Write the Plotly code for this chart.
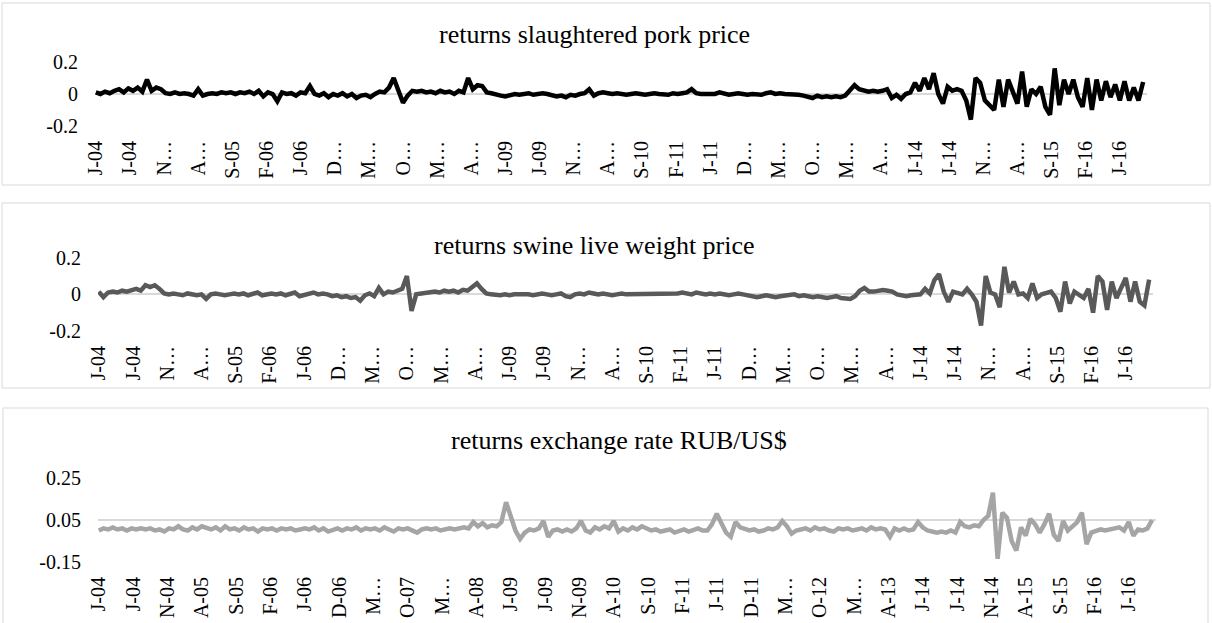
import plotly.graph_objects as go

# ---------------- data (weekly returns, sampled every 3 weeks) ----------------
week_step = 3
n_weeks = 678
label_step = 22

labels_top = ["J-04", "J-04", "N…", "A…", "S-05", "F-06", "J-06", "D…", "M…", "O…",
              "M…", "A…", "J-09", "J-09", "N…", "A…", "S-10", "F-11", "J-11", "D…",
              "M…", "O…", "M…", "A…", "J-14", "J-14", "N…", "A…", "S-15", "F-16", "J-16"]
labels_rub = ["J-04", "J-04", "N-04", "A-05", "S-05", "F-06", "J-06", "D-06", "M…", "O-07",
              "M…", "A-08", "J-09", "J-09", "N-09", "A-10", "S-10", "F-11", "J-11", "D-11",
              "M…", "O-12", "M…", "A-13", "J-14", "J-14", "N-14", "A-15", "S-15", "F-16", "J-16"]

pork = [
    0.01, 0.0, 0.015, 0.005, 0.02, 0.03, 0.01, 0.035, 0.02, 0.04,
    0.015, 0.09, 0.02, 0.04, 0.03, 0.005, 0.0, 0.01, 0.0, 0.005,
    0.0, -0.01, 0.03, -0.01, 0.0, 0.005, 0.0, 0.01, 0.005, 0.01,
    0.0, 0.01, 0.005, 0.015, 0.0, 0.02, -0.015, 0.01, 0.0, -0.045,
    0.01, 0.0, 0.005, -0.01, 0.01, 0.005, 0.05, 0.0, -0.01, 0.005,
    -0.02, 0.0, -0.01, 0.005, -0.015, 0.0, -0.025, -0.01, -0.005, -0.02,
    0.0, 0.015, 0.01, 0.04, 0.1, 0.03, -0.055, -0.01, 0.02, 0.015,
    0.02, 0.01, 0.015, 0.005, 0.02, 0.01, 0.015, 0.0, 0.02, 0.01,
    0.1, 0.03, 0.055, 0.05, 0.01, 0.005, -0.005, -0.01, -0.015, -0.005,
    0.0, -0.005, 0.0, 0.005, -0.005, 0.0, 0.005, 0.0, -0.01, -0.015,
    -0.01, -0.02, -0.005, -0.01, 0.0, 0.005, 0.03, -0.01, 0.005, 0.01,
    0.005, 0.0, 0.005, 0.0, -0.005, 0.0, 0.005, 0.0, -0.005, 0.0,
    0.005, 0.0, 0.0, -0.005, 0.005, 0.0, 0.005, 0.01, 0.03, 0.005,
    0.0, 0.0, 0.005, 0.0, 0.01, 0.0, -0.005, 0.0, 0.005, 0.0,
    -0.005, 0.0, 0.0, -0.005, 0.005, 0.01, 0.0, 0.005, 0.0, 0.0,
    -0.005, -0.005, -0.01, -0.02, -0.025, -0.01, -0.02, -0.015, -0.02, -0.015,
    -0.02, -0.01, 0.02, 0.055, 0.03, 0.02, 0.015, 0.02, 0.015, 0.02,
    0.03, -0.025, -0.005, -0.03, 0.0, 0.01, 0.07, 0.02, 0.1, 0.03,
    0.13, 0.0, -0.06, 0.045, 0.02, 0.03, 0.02, -0.04, -0.16, 0.1,
    0.07, -0.04, -0.07, -0.1, 0.09, -0.08, 0.09, 0.02, -0.06, 0.14,
    -0.08, 0.03, 0.0, 0.045, -0.08, -0.13, 0.16, -0.07, 0.09, 0.0,
    0.09, -0.02, -0.08, 0.1, -0.1, 0.09, -0.04, 0.08, -0.02, 0.06,
    -0.04, 0.08, -0.04, 0.04, -0.04, 0.075,
]

swine = [
    0.015, -0.015, 0.01, 0.015, 0.01, 0.02, 0.015, 0.02, 0.03, 0.02,
    0.05, 0.04, 0.05, 0.03, 0.005, 0.0, 0.005, 0.0, -0.005, 0.005,
    0.0, -0.005, 0.0, -0.025, 0.0, 0.005, 0.0, -0.005, 0.0, 0.005,
    0.0, 0.005, -0.005, 0.0, 0.01, -0.005, 0.0, 0.005, 0.0, 0.005,
    -0.005, 0.0, 0.01, -0.01, -0.005, 0.0, 0.01, 0.0, 0.005, 0.0,
    -0.01, -0.005, -0.015, -0.01, -0.02, -0.015, -0.035, -0.005, 0.005, -0.01,
    0.035, 0.0, 0.015, 0.01, 0.02, 0.03, 0.1, -0.09, 0.0, 0.005,
    0.005, 0.01, 0.015, 0.01, 0.02, 0.015, 0.02, 0.01, 0.025, 0.02,
    0.04, 0.06, 0.03, 0.005, 0.0, -0.005, -0.005, 0.0, -0.005, 0.0,
    0.0, 0.005, 0.0, -0.005, 0.0, 0.005, 0.0, -0.005, 0.0, 0.005,
    -0.01, -0.015, 0.0, 0.005, 0.0, 0.01, 0.005, 0.0, 0.005, 0.0,
    -0.005, 0.0, 0.005, 0.0, 0.0, 0.005, 0.0, 0.005, 0.0, 0.005,
    0.0, 0.0, 0.005, 0.0, 0.005, 0.01, 0.005, 0.0, 0.01, 0.005,
    0.0, 0.005, 0.0, 0.005, 0.0, -0.005, 0.0, 0.005, 0.0, -0.005,
    -0.01, -0.015, -0.01, -0.005, -0.01, -0.015, -0.01, -0.005, -0.005, 0.0,
    -0.01, -0.005, -0.01, -0.015, -0.01, -0.015, -0.02, -0.015, -0.01, -0.02,
    -0.02, -0.025, -0.01, 0.02, 0.035, 0.015, 0.015, 0.02, 0.023, 0.02,
    0.015, 0.0, -0.005, -0.01, -0.005, 0.0, 0.0, 0.03, 0.005, 0.078,
    0.11, 0.015, -0.04, 0.015, 0.005, 0.0, 0.03, 0.0, -0.04, -0.17,
    0.1, 0.01, 0.0, -0.07, 0.15, 0.01, 0.07, 0.0, 0.005, -0.02,
    0.06, -0.02, 0.0, 0.005, 0.015, -0.02, -0.095, 0.07, -0.05, 0.015,
    0.0, -0.02, 0.03, -0.1, 0.1, 0.07, -0.085, 0.07, -0.02, 0.03,
    0.09, -0.04, 0.07, -0.04, -0.06, 0.08,
]

rub = [
    0.0, 0.01, 0.005, 0.015, 0.005, 0.01, 0.0, 0.01, 0.005, 0.01,
    0.005, 0.01, 0.0, 0.005, -0.005, 0.01, 0.005, 0.02, 0.005, 0.0,
    0.015, 0.005, 0.02, 0.01, 0.005, 0.015, 0.0, 0.02, 0.005, 0.01,
    0.0, 0.015, 0.005, 0.01, -0.005, 0.01, 0.005, 0.01, 0.0, 0.01,
    0.005, 0.01, 0.0, 0.005, 0.01, 0.005, 0.015, 0.0, 0.01, -0.005,
    0.005, 0.01, 0.0, 0.01, 0.005, 0.015, 0.0, 0.01, 0.005, 0.01,
    0.0, 0.015, 0.005, -0.005, 0.01, 0.005, 0.01, 0.0, -0.01, 0.005,
    0.01, 0.005, 0.01, 0.0, 0.005, 0.01, 0.005, 0.01, 0.015, 0.01,
    0.04, 0.02, 0.035, 0.015, 0.025, 0.02, 0.04, 0.135, 0.07, 0.0,
    -0.04, -0.01, 0.005, 0.0, 0.01, 0.045, -0.03, 0.0, 0.005, -0.005,
    0.005, -0.005, 0.01, 0.045, 0.0, -0.01, 0.015, 0.005, 0.02, 0.01,
    0.045, -0.005, 0.01, 0.0, 0.015, 0.005, 0.02, 0.01, 0.0, 0.005,
    -0.005, 0.0, 0.005, -0.01, 0.0, 0.005, -0.005, 0.0, 0.01, 0.0,
    0.0, 0.03, 0.08, 0.035, -0.01, -0.03, 0.04, 0.015, 0.01, 0.0,
    0.005, -0.005, 0.0, 0.01, 0.005, 0.015, 0.045, 0.02, -0.015, 0.0,
    0.005, 0.01, 0.0, 0.015, 0.005, 0.01, 0.0, -0.005, 0.01, 0.005,
    0.01, 0.0, 0.005, 0.01, 0.0, 0.015, 0.005, 0.01, 0.005, -0.03,
    0.01, 0.0, 0.01, 0.0, 0.005, 0.04, 0.015, 0.0, -0.005, -0.01,
    -0.005, -0.01, 0.0, -0.01, 0.04, 0.02, 0.015, 0.025, 0.02, 0.05,
    0.07, 0.18, -0.135, 0.085, 0.06, -0.05, -0.095, 0.015, -0.025, 0.055,
    0.03, -0.01, 0.03, 0.08, -0.02, -0.05, 0.045, 0.0, 0.02, 0.04,
    0.085, -0.065, -0.01, 0.0, 0.005, 0.0, 0.005, 0.01, 0.015, 0.0,
    0.04, -0.025, 0.005, 0.0, 0.01, 0.05,
]

titles = ["returns slaughtered pork price", "returns swine live weight price",
          "returns exchange rate RUB/US$"]

# ---------------- layout helpers ----------------
W, H = 1212, 623
FONT = "Times New Roman, Liberation Serif, serif"


def fx(p):
    return p / W


def fy(p):
    return 1 - p / H


panels = [
    dict(y=pork, color="#000000", ytick=[-0.2, 0, 0.2], ytext=["-0.2", "0", "0.2"],
         yrange=[-0.2, 0.2], xdom=(95, 1147), ydom=(62, 126), labels=labels_top,
         box=(2, 3, 1210, 185), title=(594, 34)),
    dict(y=swine, color="#595959", ytick=[-0.2, 0, 0.2], ytext=["-0.2", "0", "0.2"],
         yrange=[-0.2, 0.2], xdom=(98, 1153), ydom=(257.7, 331), labels=labels_top,
         box=(2, 203, 1210, 388), title=(594, 245)),
    dict(y=rub, color="#A5A5A5", ytick=[-0.15, 0.05, 0.25], ytext=["-0.15", "0.05", "0.25"],
         yrange=[-0.15, 0.25], xdom=(98, 1156), ydom=(478, 562), labels=labels_rub,
         box=(3, 408, 1208, 640), title=(619, 441)),
]

fig = go.Figure()
shapes = []
annotations = []
tickvals = [k * label_step for k in range(len(labels_top))]

for n, p in enumerate(panels, start=1):
    sfx = "" if n == 1 else str(n)
    xs = [k * week_step for k in range(len(p["y"]))]
    fig.add_trace(go.Scatter(
        x=xs, y=p["y"], mode="lines", xaxis="x" + sfx, yaxis="y" + sfx,
        line=dict(color=p["color"], width=4.5),
        showlegend=False, hoverinfo="skip"))
    fig.layout["xaxis" + sfx] = dict(
        domain=[fx(p["xdom"][0]), fx(p["xdom"][1])], anchor="y" + sfx,
        range=[-0.5, n_weeks - 0.5], tickmode="array", tickvals=tickvals,
        ticktext=p["labels"], tickangle=-90, showgrid=False, zeroline=False,
        showline=False, ticks="", ticklabelstandoff=10, automargin=False,
        tickfont=dict(family=FONT, size=20, color="#000000"))
    fig.layout["yaxis" + sfx] = dict(
        domain=[fy(p["ydom"][1]), fy(p["ydom"][0])], anchor="x" + sfx,
        range=p["yrange"], tickmode="array", tickvals=p["ytick"], ticktext=p["ytext"],
        showgrid=True, gridcolor="#D9D9D9", gridwidth=1.5, zeroline=False,
        showline=False, ticks="", ticklabelstandoff=16, automargin=False,
        tickfont=dict(family=FONT, size=20, color="#000000"))
    x0, y0, x1, y1 = p["box"]
    shapes.append(dict(type="rect", xref="paper", yref="paper",
                       x0=fx(x0), x1=fx(x1), y0=fy(y1), y1=fy(y0),
                       line=dict(color="#D9D9D9", width=1), fillcolor="rgba(0,0,0,0)",
                       layer="below"))
    annotations.append(dict(text=titles[n - 1], xref="paper", yref="paper",
                            x=fx(p["title"][0]), y=fy(p["title"][1]),
                            xanchor="center", yanchor="middle", showarrow=False,
                            font=dict(family=FONT, size=26, color="#000000")))

fig.update_layout(
    width=W, height=H, margin=dict(l=0, r=0, t=0, b=0, autoexpand=False),
    paper_bgcolor="white", plot_bgcolor="white",
    shapes=shapes, annotations=annotations, showlegend=False,
)

fig.write_html("out.html", config={"displayModeBar": False},
               post_script="document.body.style.margin='0';document.body.style.overflow='hidden';")
